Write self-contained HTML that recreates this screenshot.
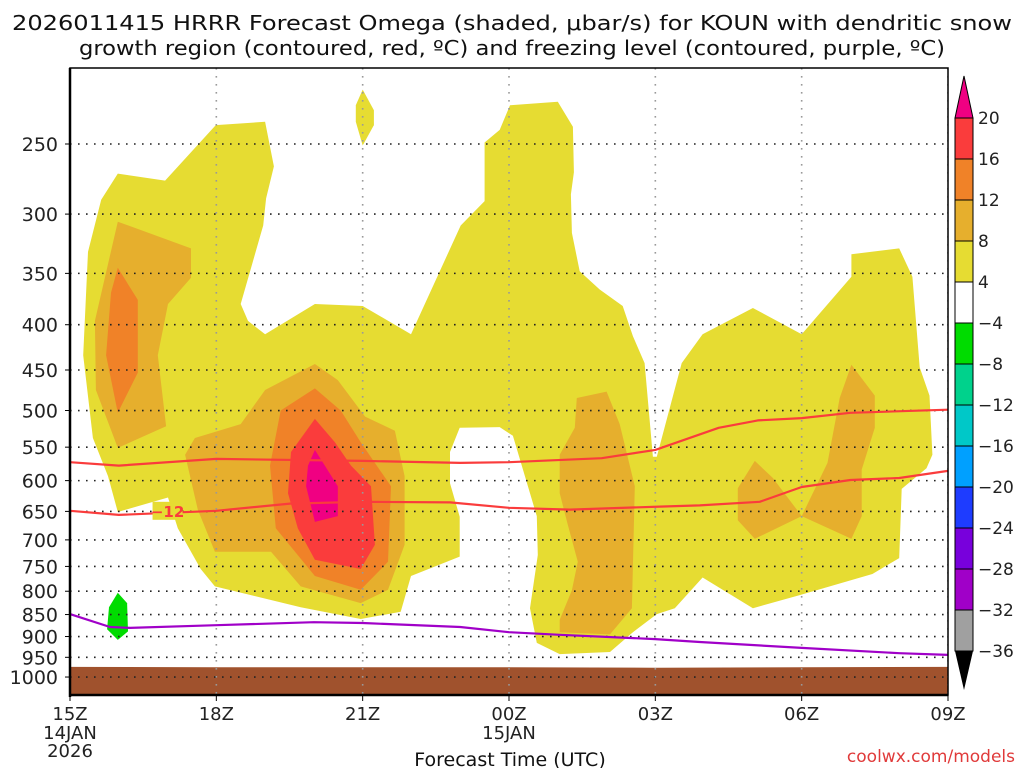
<!DOCTYPE html>
<html><head><meta charset="utf-8"><style>
html,body{margin:0;padding:0;background:#fff;}
svg{display:block;font-family:"DejaVu Sans","Liberation Sans",sans-serif;}
</style></head><body>
<svg id="chart" width="1024" height="768" viewBox="0 0 1024 768" xmlns="http://www.w3.org/2000/svg">
<text x="512" y="30" text-anchor="middle" font-size="20" textLength="1000" lengthAdjust="spacingAndGlyphs" fill="#111">2026011415 HRRR Forecast Omega (shaded, μbar/s) for KOUN with dendritic snow</text>
<text x="512" y="55" text-anchor="middle" font-size="20" textLength="866" lengthAdjust="spacingAndGlyphs" fill="#111">growth region (contoured, red, ºC) and freezing level (contoured, purple, ºC)</text>
<g id="plot"></g>
<g id="axes"></g>
<g id="cbar"></g>
<text x="510" y="766" text-anchor="middle" font-size="19" fill="#111">Forecast Time (UTC)</text>
<text x="1015" y="762" text-anchor="end" font-size="17" fill="#e03a3a">coolwx.com/models</text>
</svg>
<script>
// ---- data ----
const xTickHours = [0,3,6,9,12,15,18];
const xTickLabels = ["15Z","18Z","21Z","00Z","03Z","06Z","09Z"];
const pTicks = [250,300,350,400,450,500,550,600,650,700,750,800,850,900,950,1000];
const cbarLevels = [20,16,12,8,4,-4,-8,-12,-16,-20,-24,-28,-32,-36];
const cbarColors = ["#fa3c3c","#f08228","#e6af2d","#e6dc32","#ffffff","#00dc00","#00d28c","#00c8c8","#00a0ff","#1e3cff","#7800dc","#a000c8","#a0a0a0"];
const dgzUpperHours = [0,1,3,6,8,9,10.9,12,13.3,14.1,15,16,18];
const dgzUpperP = [572,577,567,570,573,572,566,554,523,513,510,503,499];
const dgzLowerHours = [0,1,3,4.51,6,7.79,9,10.25,12.09,12.91,14.14,15,16,17,18];
const dgzLowerP = [649,656,649,637,634,635,644,647,642,640,634,610,599,596,585];
const frzHours = [0,0.82,1.23,3,5,6,8,9,10.04,12,12.91,15,17,18];
const frzP = [849,878,880,874,867,869,878,890,896,906,913,927,940,944];
const surfaceHours = [0,3,6,9,12,15,18];
const surfaceP = [974,975,975,975,976,975,974];
const omega4 = [[0.64,289],[0.98,270],[1.95,275],[2.99,238],[4.0,236],[4.18,265],[4.02,288],[3.96,309],[3.5,379],[3.65,396],[4.0,410],[5.02,379],[6.0,381],[6.99,410],[8.01,309],[8.5,290],[8.5,249],[8.81,241],[9.02,226],[10.0,224],[10.31,239],[10.33,269],[10.27,285],[10.29,315],[10.45,348],[10.86,365],[11.33,381],[11.54,412],[11.78,442],[11.95,564],[12.03,564],[12.54,442],[12.97,410],[14.0,383],[15.0,410],[16.02,353],[16.02,333],[17.0,328],[17.27,353],[17.42,447],[17.62,481],[17.68,561],[17.56,581],[17.05,613],[17.0,734],[16.45,765],[14.96,808],[14.0,836],[12.97,772],[12.4,836],[12.03,849],[11.54,890],[11.07,937],[10.04,942],[9.57,915],[9.43,836],[9.59,728],[9.57,658],[9.08,534],[8.81,522],[7.99,523],[7.79,557],[7.79,604],[7.99,659],[7.99,731],[6.99,769],[6.78,844],[5.96,860],[4.73,834],[2.97,790],[2.68,755],[2.21,679],[2.01,627],[0.98,651],[0.78,593],[0.47,537],[0.27,433],[0.37,331]];
const omega4Top = [[6.0,217],[6.23,229],[6.23,238],[6.0,251],[5.86,236],[5.86,226]];
const omega8Left = [[0.98,306],[2.48,328],[2.48,354],[2.01,379],[1.8,433],[1.97,521],[0.98,551],[0.53,474],[0.51,396]];
const omega12Left = [[0.98,345],[1.39,375],[1.39,453],[0.98,503],[0.74,433],[0.84,368]];
const omega8Center = [[5.02,443],[4.0,474],[3.5,518],[2.56,537],[2.36,561],[2.62,647],[2.97,722],[4.12,722],[4.73,790],[5.96,825],[6.52,797],[6.86,709],[6.86,593],[6.66,527],[6.05,508],[5.49,462]];
const omega12Center = [[5.02,472],[4.32,500],[4.1,577],[4.22,679],[5.02,769],[5.96,797],[6.52,741],[6.58,609],[5.96,543],[5.55,500]];
const omega16Center = [[5.02,511],[4.53,557],[4.47,620],[4.67,679],[5.02,737],[5.96,755],[6.25,709],[6.17,609],[5.76,577],[5.43,543]];
const omega20Center = [[5.02,554],[5.49,609],[5.49,658],[5.02,668],[4.84,609],[4.88,577]];
const omega8RightA = [[10.39,484],[11.0,476],[11.27,518],[11.58,609],[11.52,836],[11.07,895],[10.04,890],[10.04,862],[10.29,798],[10.41,741],[10.2,671],[10.04,620],[10.04,561],[10.35,523]];
const omega8RightB = [[14.04,570],[14.41,596],[15.0,658],[15.53,573],[15.78,484],[16.02,444],[16.5,481],[16.5,523],[16.23,583],[16.23,658],[16.02,698],[15.0,658],[14.04,698],[13.69,665],[13.69,612]];
const omegaNeg4 = [[0.98,803],[1.17,825],[1.19,888],[0.98,908],[0.76,883],[0.8,834]];

// ---- axes ----
const X0=70, X1=948, Y0=68, Y1=695;
const xs = h => X0 + h*(X1-X0)/18;
const ys = p => 144 + 384.5*Math.log(p/250);
const NS="http://www.w3.org/2000/svg";
function mk(tag, parent, attrs){const e=document.createElementNS(NS,tag);for(const k in attrs)e.setAttribute(k,attrs[k]);parent.appendChild(e);return e;}
const plot=document.getElementById('plot'), axes=document.getElementById('axes'), cbar=document.getElementById('cbar');

const clip=mk('clipPath',plot,{id:'pc'});
mk('rect',clip,{x:X0,y:Y0,width:X1-X0,height:Y1-Y0});
const g=mk('g',plot,{'clip-path':'url(#pc)'});

function poly(pts,color,name){
  const e=mk('polygon',g,{points:pts.map(d=>xs(d[0]).toFixed(1)+','+ys(d[1]).toFixed(1)).join(' '),fill:color});
  
  
}
poly(omega4,'#e6dc32','omega-4-8-region');
poly(omega4Top,'#e6dc32','omega-4-8-top-cell');
poly(omega8Left,'#e6af2d','omega-8-12-left');
poly(omega12Left,'#f08228','omega-12-16-left');
poly(omega8Center,'#e6af2d','omega-8-12-center');
poly(omega12Center,'#f08228','omega-12-16-center');
poly(omega16Center,'#fa3c3c','omega-16-20-center');
poly(omega20Center,'#f00082','omega-20-plus-center');
poly(omega8RightA,'#e6af2d','omega-8-12-right-a');
poly(omega8RightB,'#e6af2d','omega-8-12-right-b');
poly(omegaNeg4,'#00dc00','omega-neg4-8-region');

{const pts=surfaceHours.map((h,i)=>xs(h)+','+ys(surfaceP[i]));
 pts.push(X1+','+(Y1+5)); pts.push(X0+','+(Y1+5));
 const e=mk('polygon',g,{points:pts.join(' '),fill:'#a0522d'});
 
 }

pTicks.forEach(p=>{
  const e=mk('line',g,{x1:X0,x2:X1,y1:ys(p),y2:ys(p),stroke:'#222','stroke-width':1.6,'stroke-dasharray':'1.6 6.4'});
  
  
});
xTickHours.forEach(h=>{
  const e=mk('line',g,{x1:xs(h),x2:xs(h),y1:Y0,y2:Y1,stroke:'#999','stroke-width':1.6,'stroke-dasharray':'1.6 6.4'});
  
  
});

function line(hs,ps,color,name,w){
  const e=mk('polyline',g,{points:hs.map((h,i)=>xs(h).toFixed(1)+','+ys(ps[i]).toFixed(1)).join(' '),fill:'none',stroke:color,'stroke-width':w,'stroke-linejoin':'round'});
  
  
}
line(dgzUpperHours,dgzUpperP,'#fa3c3c','dgz-upper-contour',2.2);
line(dgzLowerHours,dgzLowerP,'#fa3c3c','dgz-lower-contour-minus12',2.2);
line(frzHours,frzP,'#a000c8','freezing-level-contour',2.2);
{const lx=xs(2.0), ly=ys(dgzLowerP[2]);
 const r=mk('rect',g,{x:lx-15,y:ly-9,width:30,height:18,fill:'#e6dc32'});
 
 
 const t=mk('text',g,{x:lx,y:ly+6,'text-anchor':'middle','font-size':15,'font-weight':'bold',fill:'#fa3c3c'});
 t.textContent='−12';
 
 }

{const e=mk('rect',axes,{x:X0,y:Y0,width:X1-X0,height:Y1-Y0,fill:'none',stroke:'#000','stroke-width':1.5});
 
 const l=mk('line',axes,{x1:X0,x2:X0,y1:Y0,y2:Y1+2,stroke:'#000','stroke-width':2.5});
 
 const b=mk('line',axes,{x1:X0,x2:X1,y1:Y1,y2:Y1,stroke:'#000','stroke-width':2.5});
 }
pTicks.forEach(p=>{
  const t=mk('text',axes,{x:58,y:ys(p)+7,'text-anchor':'end','font-size':19,fill:'#222'});
  t.textContent=p;
  
  
  mk('line',axes,{x1:X0-5,x2:X0,y1:ys(p),y2:ys(p),stroke:'#000','stroke-width':1});
});
xTickHours.forEach((h,i)=>{
  mk('line',axes,{x1:xs(h),x2:xs(h),y1:Y1,y2:Y1+6,stroke:'#000','stroke-width':1});
  const t=mk('text',axes,{x:xs(h),y:720,'text-anchor':'middle','font-size':18,fill:'#222'});
  t.textContent=xTickLabels[i];
  
  
});
[['14JAN',xs(0),739],['2026',xs(0),757],['15JAN',xs(9),739]].forEach(d=>{
  const t=mk('text',axes,{x:d[1],y:d[2],'text-anchor':'middle','font-size':18,fill:'#222'});
  t.textContent=d[0];
  
  
});

const CX=955, CW=18, CT=118, CB=651, BH=(CB-CT)/cbarColors.length;
cbarColors.forEach((c,i)=>{
  const e=mk('rect',cbar,{x:CX,y:CT+i*BH,width:CW,height:BH,fill:c,stroke:'#000','stroke-width':1});
  
  
});
{const t=mk('polygon',cbar,{points:`${CX},${CT} ${CX+CW},${CT} ${CX+CW/2},76`,fill:'#f00082',stroke:'#000','stroke-width':1});
 
 const b=mk('polygon',cbar,{points:`${CX},${CB} ${CX+CW},${CB} ${CX+CW/2},690`,fill:'#000'});
 }
cbarLevels.forEach((v,i)=>{
  const t=mk('text',cbar,{x:978,y:CT+i*BH+6,'font-size':17,fill:'#222'});
  t.textContent=(v<0?'−'+(-v):String(v));
  
  
});
</script>
</body></html>
